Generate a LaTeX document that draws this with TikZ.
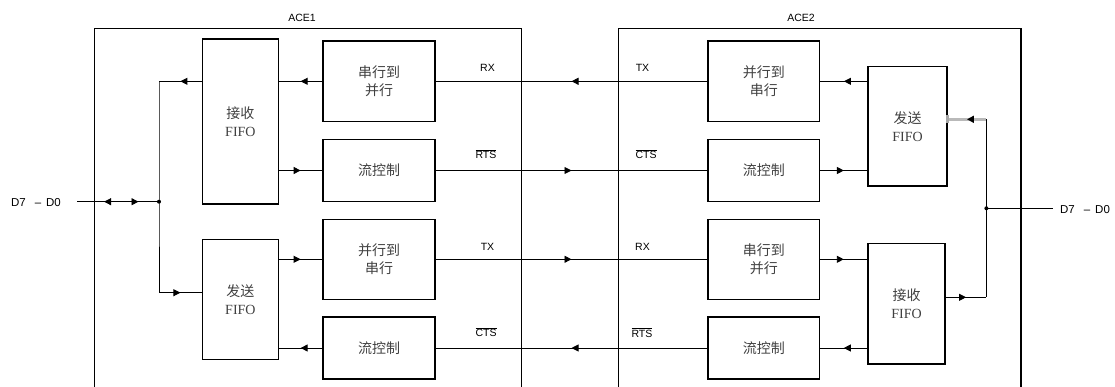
\documentclass[tikz,border=0pt]{standalone}
\usepackage{fontspec}
\setmainfont{Liberation Sans}
\newfontfamily\cjkfont{Noto Sans CJK SC}
\newfontfamily\serfont{Liberation Serif}
\usetikzlibrary{arrows.meta,decorations.markings}

\tikzset{
  blk/.style={draw, line width=1.5pt, inner sep=0pt, align=center, text=black!75,
    font=\cjkfont\fontsize{14}{18}\selectfont},
  outerframe/.style={line width=1.5pt},
  wire/.style={line width=0.9pt},
  midarr/.style={wire, postaction={decorate}, decoration={markings,
    mark=at position #1 with {\arrow{Triangle[length=7pt,width=7pt]}}}},
  midarr/.default=0.5,
  bidir/.style={wire, postaction={decorate}, decoration={markings,
    mark=at position 0.33 with {\arrowreversed{Triangle[length=7pt,width=7pt]}},
    mark=at position 0.75 with {\arrow{Triangle[length=7pt,width=7pt]}}}},
  lbl/.style={font=\fontsize{10.5}{12}\selectfont, inner sep=0pt},
  buslbl/.style={font=\fontsize{11.5}{13}\selectfont, inner sep=0pt},
  jdot/.style={circle, fill, inner sep=0pt, minimum size=4pt},
}

\begin{document}
\begin{tikzpicture}[x=1pt,y=-1pt]
\useasboundingbox (0,0) rectangle (1115,387);

% outer frames (open at the bottom)
\draw[outerframe] (94.6,387) -- (94.6,28.3) -- (521.4,28.3) -- (521.4,387);
\draw[outerframe] (618.6,387) -- (618.6,28.3) -- (1021,28.3) -- (1021,387);
\node[lbl] (ace1) at (302,18.3) {ACE1};
\node[lbl] (ace2) at (801,18.3) {ACE2};

% ACE1 blocks
\node[blk, minimum width=112pt, minimum height=80.7pt] (rx1) at (379,81.3) {串行到\\并行};
\node[blk, minimum width=112pt, minimum height=62.4pt] (fc1a) at (379,170.5) {流控制};
\node[blk, minimum width=112pt, minimum height=80pt] (ps1) at (379,259.3) {并行到\\串行};
\node[blk, minimum width=112pt, minimum height=62.3pt] (fc1b) at (379,348) {流控制};
\node[blk, minimum width=75.7pt, minimum height=165pt] (rf1) at (240.4,121.5) {接收\\{\serfont FIFO}};
\node[blk, minimum width=75.7pt, minimum height=120pt] (tf1) at (240.4,299.3) {发送\\{\serfont FIFO}};

% ACE2 blocks
\node[blk, minimum width=111.6pt, minimum height=80.7pt] (ps2) at (763.8,81.3) {并行到\\串行};
\node[blk, minimum width=111.6pt, minimum height=62.4pt] (fc2a) at (763.8,170.5) {流控制};
\node[blk, minimum width=111.6pt, minimum height=80pt] (sp2) at (763.8,259.3) {串行到\\并行};
\node[blk, minimum width=111.6pt, minimum height=62.3pt] (fc2b) at (763.8,348) {流控制};
\node[blk, minimum width=78.6pt, minimum height=119.3pt] (tf2) at (907.5,126.3) {发送\\{\serfont FIFO}};
\node[blk, minimum width=77pt, minimum height=120.7pt] (rf2) at (906.5,303.6) {接收\\{\serfont FIFO}};

% left data bus
\coordinate (dLs) at (77,201.7);
\coordinate (jL) at (159,201.7);
\coordinate (bL1) at (159,81.3);
\coordinate (bL2) at (159,292.7);
\node[buslbl] (dL) at (36,202.5) {D7\hspace{9pt}–\hspace{5pt}D0};
\draw[bidir] (dLs) -- (jL);
\draw[midarr] (rf1.west |- bL1) -- (bL1);
\draw[wire] (bL1) -- (jL) -- (bL2);
\draw[midarr] (bL2) -- (bL2 -| tf1.west);
\node[jdot] (jLd) at (jL) {};

% ACE1 internal
\draw[midarr] (rx1.west) -- (rx1.west -| rf1.east);
\draw[midarr] (rf1.east |- fc1a.west) -- (fc1a.west);
\draw[midarr] (tf1.east |- ps1.west) -- (ps1.west);
\draw[midarr] (fc1b.west) -- (fc1b.west -| tf1.east);

% serial links
\draw[midarr] (ps2.west) -- (rx1.east);
\draw[midarr] (fc1a.east) -- (fc2a.west);
\draw[midarr] (ps1.east) -- (sp2.west);
\draw[midarr] (fc2b.west) -- (fc1b.east);

% signal labels
\node[lbl] (l1) at (487.5,68.3) {RX};
\node[lbl] (l2) at (486,154) {\(\overline{\mbox{RTS}}\)};
\node[lbl] (l3) at (487.5,247.3) {TX};
\node[lbl] (l4) at (486,332) {\(\overline{\mbox{CTS}}\)};
\node[lbl] (r1) at (642.5,68.3) {TX};
\node[lbl] (r2) at (646,154) {\(\overline{\mbox{CTS}}\)};
\node[lbl] (r3) at (642.5,247.3) {RX};
\node[lbl] (r4) at (642,332.7) {\(\overline{\mbox{RTS}}\)};

% ACE2 internal
\draw[midarr] (tf2.west |- ps2.east) -- (ps2.east);
\draw[midarr] (fc2a.east) -- (fc2a.east -| tf2.west);
\draw[midarr] (sp2.east) -- (sp2.east -| rf2.west);
\draw[midarr] (rf2.west |- fc2b.east) -- (fc2b.east);

% right data bus
\coordinate (gR) at (986.4,119.3);
\coordinate (jR) at (986.4,208.3);
\coordinate (bR) at (986.4,297.3);
\coordinate (dRe) at (1053,208.3);
\draw[gray!55, line width=2.6pt, postaction={decorate}, decoration={markings,
    mark=at position 0.5 with {\arrow{Triangle[length=7pt,width=7pt,color=black]}}}]
  (gR) -- (gR -| tf2.east);
\fill[gray!70] (gR -| tf2.east) ++(-1.5,-4) rectangle ++(3,8);
\draw[wire] (gR) -- (jR) -- (bR);
\draw[midarr] (rf2.east |- bR) -- (bR);
\draw[wire] (jR) -- (dRe);
\node[jdot] (jRd) at (jR) {};
\node[buslbl] (dR) at (1085,209.5) {D7\hspace{9pt}–\hspace{5pt}D0};
\end{tikzpicture}
\end{document}
